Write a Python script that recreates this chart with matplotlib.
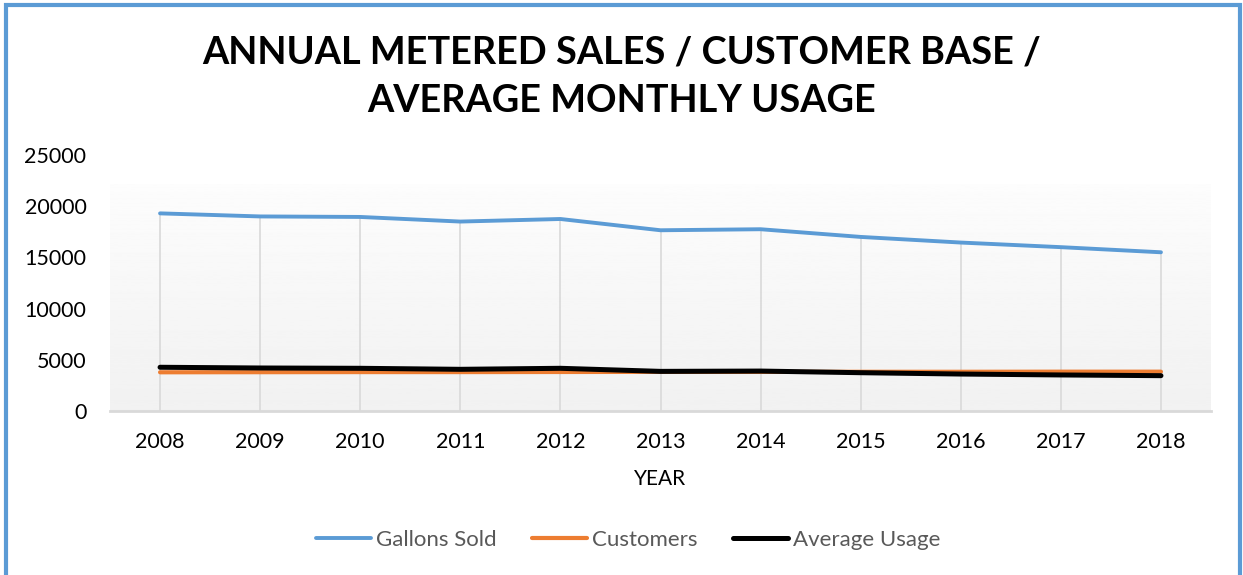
import numpy as np
import matplotlib
matplotlib.use('Agg')
import matplotlib.pyplot as plt
from matplotlib.patches import Rectangle

years = ['2008', '2009', '2010', '2011', '2012', '2013', '2014', '2015', '2016', '2017', '2018']
gallons_sold = [19300, 19000, 18950, 18500, 18750, 17650, 17750, 17000, 16450, 16000, 15500]
customers = [3780, 3790, 3800, 3800, 3810, 3820, 3820, 3830, 3830, 3840, 3840]
average_usage = [4270, 4200, 4170, 4070, 4170, 3870, 3900, 3740, 3610, 3520, 3450]

plt.rcParams['font.family'] = ['Lato', 'DejaVu Sans']

fig = plt.figure(figsize=(12.43, 5.75), dpi=100)
W, H = 1243, 575
ax = fig.add_axes([110 / W, 1 - 411 / H, (1211 - 110) / W, (411 - 155) / H])

x = np.arange(len(years))

# gradient background of plot area (near white at top -> light grey at bottom)
grad = np.linspace(0.99, 0.945, 256).reshape(-1, 1)
ax.imshow(grad, cmap='gray', vmin=0, vmax=1, aspect='auto', transform=ax.transAxes,
          extent=(0, 1, 0, (411 - 184) / (411 - 155)), origin='upper', zorder=0)

# drop lines from the top series down to the axis
ax.vlines(x, 0, gallons_sold, color='#d9d9d9', lw=1.2, zorder=1)

ax.plot(x, gallons_sold, color='#5b9bd5', lw=2.8, label='Gallons Sold', zorder=3, solid_capstyle='round')
ax.plot(x, customers, color='#ed7d31', lw=3, label='Customers', zorder=3, solid_capstyle='round')
ax.plot(x, average_usage, color='#000000', lw=3.6, label='Average Usage', zorder=4, solid_capstyle='round')

ax.set_xlim(-0.5, len(years) - 0.5)
ax.set_ylim(0, 25000)
ax.set_xticks(x)
ax.set_xticklabels(years)
ax.set_yticks(range(0, 25001, 5000))
ax.tick_params(axis='both', length=0, labelsize=15.5, colors='black')
ax.tick_params(axis='y', pad=17)
ax.tick_params(axis='x', pad=15)
for s in ['top', 'right', 'left']:
    ax.spines[s].set_visible(False)
ax.spines['bottom'].set_color('#d9d9d9')
ax.spines['bottom'].set_linewidth(2)

ax.set_xlabel('YEAR', fontsize=15, labelpad=12.5)

fig.text(0.5, 1 - 52 / H, 'ANNUAL METERED SALES / CUSTOMER BASE /', ha='center', va='center',
         fontsize=27.3, fontweight='bold')
fig.text(0.5, 1 - 101 / H, 'AVERAGE MONTHLY USAGE', ha='center', va='center',
         fontsize=27.3, fontweight='bold')

fig.legend(loc='center', bbox_to_anchor=(628 / W, 1 - 540 / H), ncol=3, frameon=False,
           fontsize=16, handlelength=2.5, columnspacing=1.6, handletextpad=0.2,
           labelcolor='#595959')

# blue chart border
fig.patches.append(Rectangle((6 / W, -0.05), (1234 / W), 1.05 - 5 / H, transform=fig.transFigure,
                             fill=False, edgecolor='#5b9bd5', lw=3))

fig.savefig('out.png', dpi=100)
